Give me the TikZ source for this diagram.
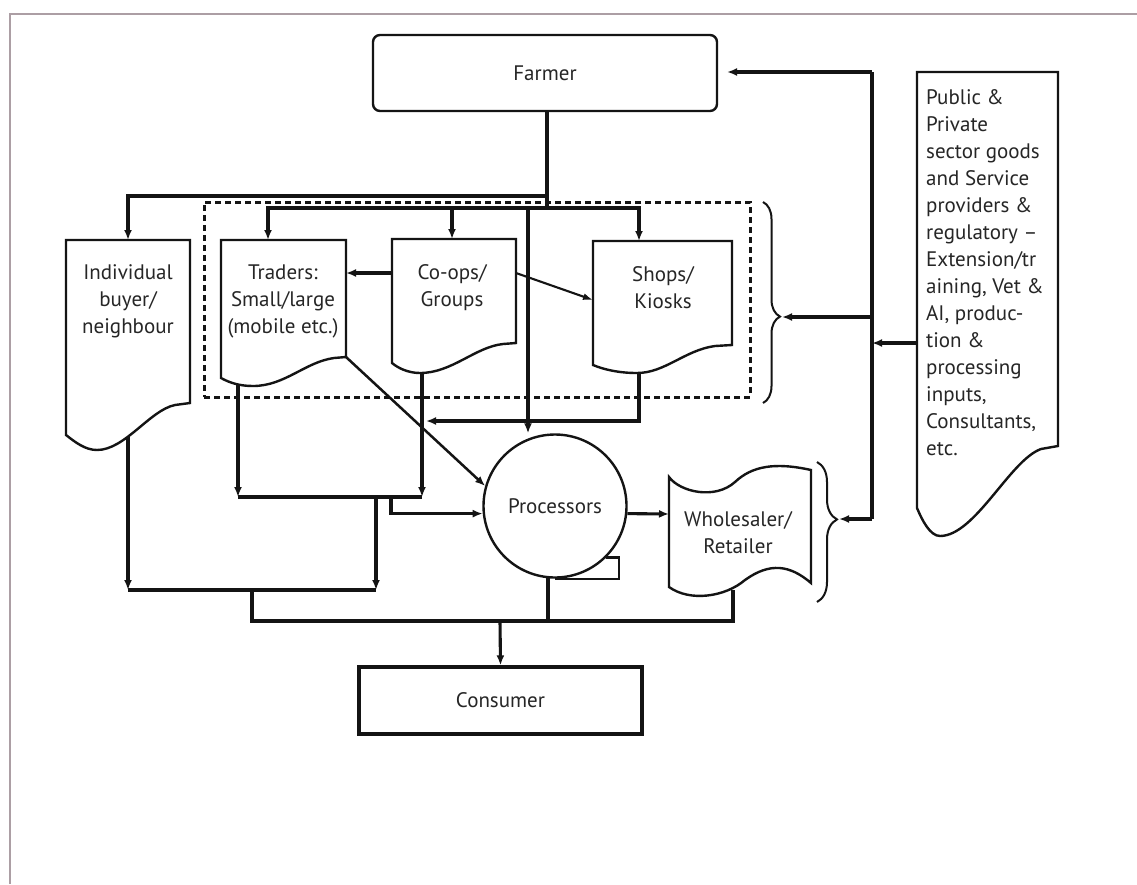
\documentclass[tikz,border=0pt]{standalone}
\usepackage{fontspec}
\setmainfont{PT Sans}
\usetikzlibrary{arrows.meta,decorations.pathreplacing}
\begin{document}
\begin{tikzpicture}[x=1pt,y=-1pt,
  ink/.style={draw=black!92},
  box/.style={ink, line width=2.4pt},
  line/.style={ink, line width=3.1pt},
  conn/.style={ink, line width=3.1pt, -{Latex[length=10pt,width=8pt]}},
  lbl/.style={font=\fontsize{21}{27}\selectfont, align=center, text=black!85, inner sep=0pt},
  bracestyle/.style={ink, line width=2pt, decorate}]
\useasboundingbox (0,0) rectangle (1137,884);
\fill[white] (0,0) rectangle (1137,884);
\draw[color={rgb,255:red,172;green,158;blue,164}, line width=1.6pt] (10,884) -- (10,14) -- (1137,14);

% Farmer and Consumer
\node[box, rounded corners=7pt, minimum width=344pt, minimum height=76pt, lbl] (farmer) at (545,73) {Farmer};
\node[box, line width=3.3pt, minimum width=283pt, minimum height=67pt, lbl] (consumer) at (500.5,700.5) {Consumer};

% dashed group
\node[ink, line width=3pt, dash pattern=on 6pt off 4pt, minimum width=546pt, minimum height=195pt, inner sep=0pt] (grp) at (477,299.5) {};

% document shapes
\draw[box] (66,240) -- (190,240) -- (190,403) -- (175,405) .. controls (150,410) and (125,450) .. (97,450) .. controls (85,450) and (75,442) .. (66,435) -- cycle;
\node[lbl] (ind) at (128,301) {Individual\\buyer/\\neighbour};

\draw[box] (221,240) -- (346,240) -- (346,357) -- (334,358) .. controls (305,362) and (285,386) .. (253,386) .. controls (240,386) and (230,383) .. (221,378) -- cycle;
\node[lbl] (trad) at (283,301) {Traders:\\Small/large\\(mobile etc.)};

\draw[box] (392,239) -- (516,239) -- (516,343) -- (503,344) .. controls (475,347) and (452,373) .. (420,373) .. controls (408,373) and (398,368) .. (392,363) -- cycle;
\node[lbl] (coop) at (452,288) {Co-ops/\\Groups};

\draw[box] (593,241) -- (732,241) -- (732,345) -- (715,346) .. controls (685,350) and (665,373) .. (637,373) .. controls (620,373) and (605,370) .. (593,365) -- cycle;
\node[lbl] (shop) at (663,288) {Shops/\\Kiosks};

\draw[box] (917,72) -- (1058,72) -- (1058,446) -- (1041,449) .. controls (1010,460) and (975,536) .. (940,536) .. controls (930,536) and (922,520) .. (917,508) -- cycle;
\node[lbl, align=left, anchor=north west] (pub) at (926,89) {Public \&\\Private\\sector goods\\and Service\\providers \&\\regulatory --\\Extension/tr\\aining, Vet \&\\AI, produc-\\tion \&\\processing\\inputs,\\Consultants,\\etc.};

% processors
\node[box, circle, minimum size=143pt, inner sep=0pt, lbl] (proc) at (555,506) {Processors};
\coordinate (tailx) at (619,0);
\draw[box] (proc.-45) -- (proc.-45 -| tailx) -- (tailx |- proc.south) -- (proc.south);

% wholesaler
\draw[box] (669,477) .. controls (680,492) and (715,500) .. (735,482) .. controls (752,466) and (775,462) .. (811,470) -- (811,583) .. controls (790,565) and (770,562) .. (745,580) .. controls (725,597) and (690,602) .. (669,587) -- cycle;
\node[lbl] (whol) at (738,533) {Wholesaler/\\Retailer};

% braces
\draw[bracestyle, decoration={brace, amplitude=17pt, aspect=0.57}] (763,202) -- (763,403);
\draw[bracestyle, decoration={brace, amplitude=20pt, aspect=0.41}] (817,462) -- (817,602);

% coordinates
\coordinate (j1) at (547,196);
\coordinate (j2) at (547,208);
\coordinate (pj) at (528,208);
\coordinate (indT) at (128,240);
\coordinate (indB) at (128,437);
\coordinate (tradT) at (268,240);
\coordinate (tradB) at (238,385);
\coordinate (tradC) at (346,357);
\coordinate (tradR) at (346,273);
\coordinate (coopT) at (452,239);
\coordinate (coopB) at (422,373);
\coordinate (coopL) at (392,273);
\coordinate (coopR) at (516,273);
\coordinate (shopT) at (639,241);
\coordinate (shopB) at (639,373);
\coordinate (shopL) at (593,300);
\coordinate (k1) at (426,421);
\coordinate (t1) at (238,497);
\coordinate (c1) at (422,497);
\coordinate (m1) at (376,497);
\coordinate (m2) at (376,590);
\coordinate (m3) at (391,497);
\coordinate (i2) at (128,590);
\coordinate (b1) at (252,590);
\coordinate (b2) at (252,621);
\coordinate (ps) at (548,577);
\coordinate (wB) at (733,590);
\coordinate (b3) at (733,621);
\coordinate (cx) at (500,621);
\coordinate (wL) at (669,514);
\coordinate (r1) at (872,72);
\coordinate (fa) at (727,72);
\coordinate (r2) at (872,519);
\coordinate (wb) at (839,519);
\coordinate (r3) at (872,317);
\coordinate (gb) at (782,317);
\coordinate (r4) at (872,343);
\coordinate (pubL) at (917,343);

% connectors from farmer
\draw[line] (farmer.south -| j2) -- (j2);
\draw[conn] (j1) -| (indT);
\draw[conn] (j2) -| (tradT);
\draw[conn] (j2) -| (shopT);
\draw[conn] (coopT |- j2) -- (coopT);
\draw[conn] (pj) -- (pj |- proc.north);

% within group
\draw[ink, line width=4pt, -{Latex[length=10pt,width=8pt]}] (coopL) -- (tradR);
\draw[ink, line width=2.1pt, -{Latex[length=10pt,width=7pt]}] (coopR) -- (shopL);
\draw[ink, line width=2.5pt, -{Latex[length=10pt,width=8pt]}] (tradC) -- (proc.164);
\draw[conn] (shopB) |- (k1);

% lower network
\draw[conn] (tradB) -- (t1);
\draw[conn] (coopB) -- (c1);
\draw[line] (t1) -- (c1);
\draw[conn] (m1) -- (m2);
\draw[conn] (m3) |- (proc.186);
\draw[conn] (indB) -- (i2);
\draw[line] (i2) -- (m2);
\draw[line] (b1) -- (b2) -- (b3) -- (wB);
\draw[line] (ps) -- (ps |- b2);
\draw[conn] (cx) -- (consumer.north);
\draw[conn] (proc.-6) -- (wL);

% right side services
\draw[line] (r1) -- (r2);
\draw[conn] (r1) -- (fa);
\draw[conn] (r2) -- (wb);
\draw[conn] (r3) -- (gb);
\draw[conn] (pubL) -- (r4);
\end{tikzpicture}
\end{document}
